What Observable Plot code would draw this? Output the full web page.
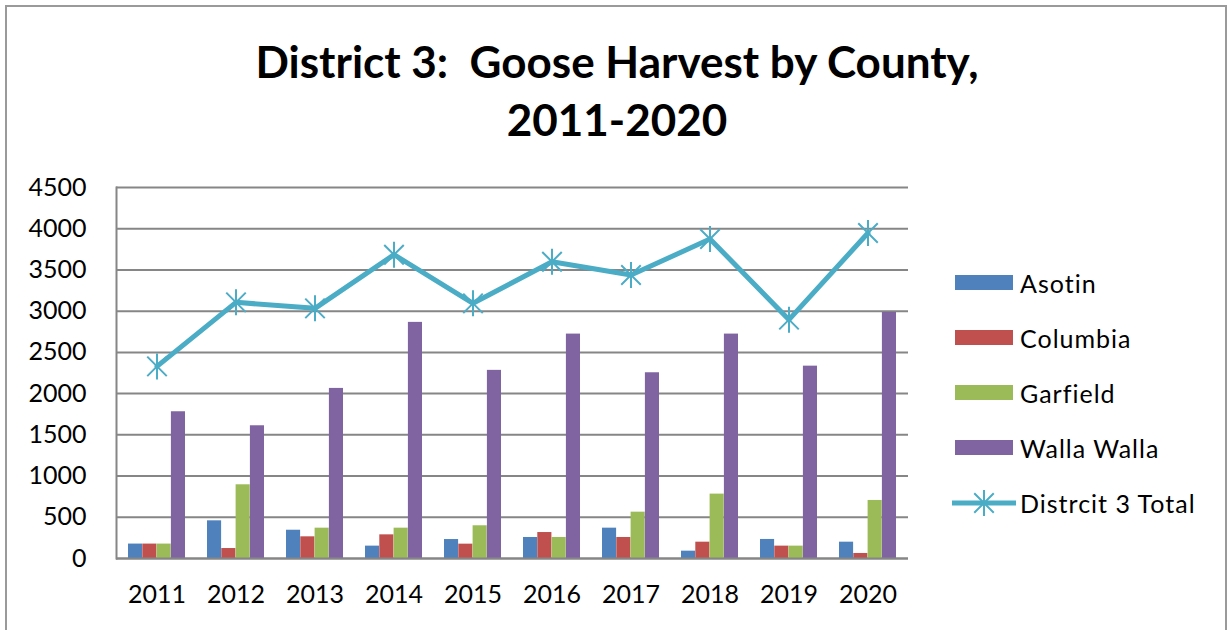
<!DOCTYPE html>
<html>
<head>
<meta charset="utf-8">
<script src="https://cdn.jsdelivr.net/npm/d3@7"></script>
<script src="https://cdn.jsdelivr.net/npm/@observablehq/plot@0.6"></script>
<style>
  html, body { margin: 0; padding: 0; background: #fff; }
  #wrap { position: relative; width: 1231px; height: 630px; overflow: hidden; font-family: Lato, "Open Sans", sans-serif; }
  #border { position: absolute; left: 5px; top: 5px; width: 1222px; height: 700px; border: 2px solid #9a9a9a; box-sizing: border-box; }
  #title { position: absolute; left: 0; top: 0; width: 1234px; height: 165px; text-align: center; font-weight: bold; font-size: 44px; line-height: 58px; padding-top: 32px; box-sizing: border-box; color: #000; }
  #chart { position: absolute; left: 0; top: 165px; }
  #legend { position: absolute; left: 950px; top: 268px; font-size: 25px; letter-spacing: 1px; color: #000; }
  .item { position: absolute; left: 0; height: 30px; width: 270px; }
  .sw { position: absolute; left: 5px; top: 7px; width: 58px; height: 15px; }
  .lab { position: absolute; left: 70px; top: 0; line-height: 30px; white-space: nowrap; }
</style>
</head>
<body>
<div id="wrap">
  <div id="border"></div>
  <div id="title">District 3:&nbsp; Goose Harvest by County,<br>2011-2020</div>
  <div id="chart"></div>
  <div id="legend"></div>
</div>
<script>
const years = ["2011","2012","2013","2014","2015","2016","2017","2018","2019","2020"];
const counties = ["Asotin","Columbia","Garfield","Walla Walla"];
const asotin     = [175, 457, 343, 150, 230, 255, 368,  89, 231, 198];
const columbia   = [175, 121, 263, 287, 174, 315, 255, 198, 150,  61];
const garfield   = [175, 894, 368, 368, 397, 255, 562, 781, 150, 704];
const wallaWalla = [1780, 1610, 2063, 2864, 2282, 2722, 2253, 2722, 2333, 2985];
const total      = [2330, 3107, 3034, 3685, 3095, 3600, 3438, 3875, 2897, 3948];
const totalLabel = "Distrcit 3 Total";
const yTicks = [0, 500, 1000, 1500, 2000, 2500, 3000, 3500, 4000, 4500];
const colors = ["#4F81BD", "#C0504D", "#9BBB59", "#8064A2"];
const lineColor = "#4BACC6";

const seriesValues = [asotin, columbia, garfield, wallaWalla];
const rows = years.map((y, i) => ({year: y, total: total[i]}));

const W = 1231, H = 465, ML = 116, MR = 323, MT = 22, MB = 72;
const bw = (W - ML - MR) / years.length;
const barW = 14.3;
const start = (bw - barW * counties.length) / 2;

const star = {
  draw(ctx, size) {
    const r = Math.sqrt(size / Math.PI);
    const d = r * 0.75;
    ctx.moveTo(0, -r); ctx.lineTo(0, r);
    ctx.moveTo(-d, -d); ctx.lineTo(d, d);
    ctx.moveTo(-d, d); ctx.lineTo(d, -d);
  }
};

const barMarks = counties.map((c, k) => {
  const data = years.map((y, i) => ({year: y, value: seriesValues[k][i]}));
  return Plot.barY(data, {
    x: "year", y: "value", fill: colors[k],
    insetLeft: start + k * barW,
    insetRight: bw - start - (k + 1) * barW
  });
});

const plot = Plot.plot({
  width: W, height: H,
  marginLeft: ML, marginRight: MR, marginTop: MT, marginBottom: MB,
  style: {fontFamily: "Lato, 'Open Sans', sans-serif", fontSize: "25px", color: "#000", background: "transparent"},
  x: {type: "band", domain: years, padding: 0, label: null, tickSize: 0, tickPadding: 27},
  y: {domain: [0, 4500], ticks: yTicks, tickFormat: d => String(d), label: null, tickSize: 0, tickPadding: 30},
  marks: [
    Plot.gridY(yTicks, {stroke: "#868686", strokeOpacity: 1, strokeWidth: 2}),
    Plot.frame({anchor: "left", stroke: "#868686", strokeWidth: 2}),
    ...barMarks,
    Plot.ruleY([0], {stroke: "#868686", strokeWidth: 2}),
    Plot.lineY(rows, {x: "year", y: "total", stroke: lineColor, strokeWidth: 5}),
    Plot.dot(rows, {x: "year", y: "total", symbol: star, r: 13, stroke: lineColor, strokeWidth: 2, fill: "none"})
  ]
});
document.getElementById("chart").appendChild(plot);

// legend
const legend = document.getElementById("legend");
const entries = counties.map((c, k) => ({label: c, color: colors[k], line: false}))
  .concat([{label: totalLabel, color: lineColor, line: true}]);
entries.forEach((e, i) => {
  const item = document.createElement("div");
  item.className = "item";
  item.style.top = (i * 55) + "px";
  if (!e.line) {
    const sw = document.createElement("div");
    sw.className = "sw";
    sw.style.background = e.color;
    item.appendChild(sw);
  } else {
    const ns = "http://www.w3.org/2000/svg";
    const svg = document.createElementNS(ns, "svg");
    svg.setAttribute("width", 70); svg.setAttribute("height", 30);
    svg.style.position = "absolute"; svg.style.left = "0px"; svg.style.top = "0px";
    const ln = document.createElementNS(ns, "line");
    ln.setAttribute("x1", 2); ln.setAttribute("x2", 66); ln.setAttribute("y1", 15); ln.setAttribute("y2", 15);
    ln.setAttribute("stroke", e.color); ln.setAttribute("stroke-width", 5);
    svg.appendChild(ln);
    const p = document.createElementNS(ns, "path");
    const r = 13, d = r * 0.75, cx = 34, cy = 15;
    p.setAttribute("d", `M${cx},${cy - r}L${cx},${cy + r}M${cx - d},${cy - d}L${cx + d},${cy + d}M${cx - d},${cy + d}L${cx + d},${cy - d}`);
    p.setAttribute("stroke", e.color); p.setAttribute("stroke-width", 2); p.setAttribute("fill", "none");
    svg.appendChild(p);
    item.appendChild(svg);
  }
  const lab = document.createElement("div");
  lab.className = "lab";
  lab.textContent = e.label;
  item.appendChild(lab);
  legend.appendChild(item);
});
</script>
</body>
</html>
